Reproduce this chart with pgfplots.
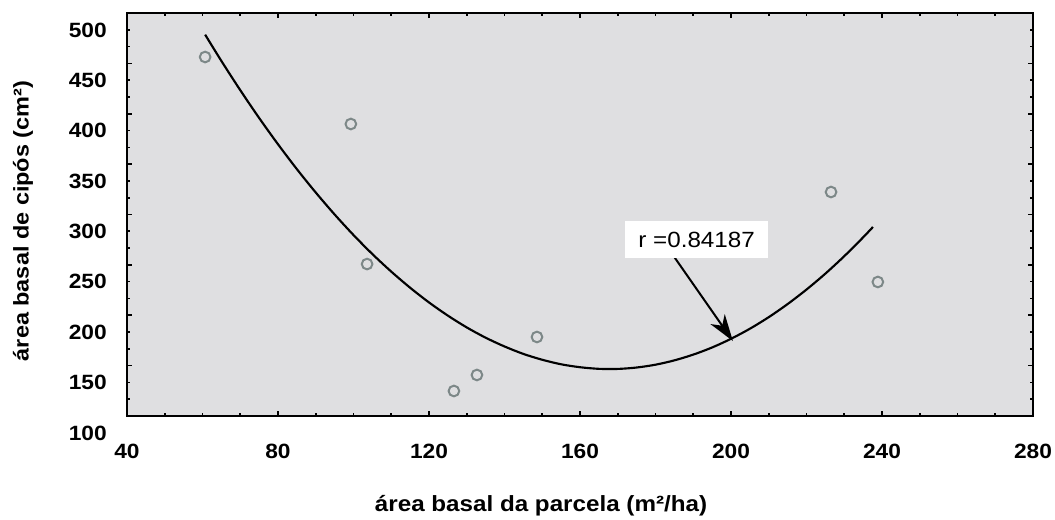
\documentclass[border=0pt]{standalone}
\usepackage{fontspec}
\setmainfont{Liberation Sans}[FakeStretch=1.1]
\usepackage{pgfplots}
\pgfplotsset{compat=1.18}
\usetikzlibrary{arrows.meta}

\definecolor{plotbg}{RGB}{223,223,225}
\definecolor{markgray}{RGB}{125,136,136}

\begin{document}
\begin{tikzpicture}
    % page = 1055 x 519 px at 0.75pt per px
    \useasboundingbox (-95.25pt,-77.25pt) rectangle (696pt,312pt);
    \begin{axis}[
        at={(0,0)}, anchor=south west,
        scale only axis,
        width=679.5pt, height=302.25pt,
        xmin=40, xmax=280,
        ymin=116.87, ymax=516.87,
        xtick={40,80,...,280},
        ytick={116.87,166.87,216.87,266.87,316.87,366.87,416.87,466.87,516.87},
        yticklabels={100,150,200,250,300,350,400,450,500},
        minor x tick num=3,
        minor y tick num=2,
        tick align=inside,
        major tick length=3.5pt,
        minor tick length=2.5pt,
        tick style={black, line width=1.2pt},
        axis line style={black, line width=1.6pt},
        axis background/.style={fill=plotbg},
        /pgf/number format/assume math mode=true,
        tick label style={font=\fontsize{15.5}{18}\selectfont\bfseries},
        xticklabel style={anchor=north, inner sep=0pt, yshift=-21pt},
        yticklabel style={anchor=east, inner sep=0pt, xshift=-15pt, yshift=-12.75pt},
        xlabel={área basal da parcela (m²/ha)},
        ylabel={área basal de cipós (cm²)},
        xlabel style={font=\fontsize{16.5}{19}\selectfont\bfseries,
            at={(axis description cs:0.457,-0.222)}, anchor=center},
        ylabel style={font=\fontsize{16}{19}\selectfont\bfseries,
            at={(axis description cs:-0.1148,0.484)}, anchor=center},
        clip=false,
        ]
        % observations
        \addplot[only marks, mark=o, mark size=4pt,
            mark options={draw=markgray, line width=1.5pt}] coordinates {
            (60.7,473.2)
            (99.3,406.7)
            (103.6,267.7)
            (126.6,141.7)
            (132.7,157.6)
            (148.6,195.3)
            (226.5,339.2)
            (238.9,249.9)
        };
        % fitted quadratic
        \addplot[black, line width=1.6pt, smooth] coordinates {
            (60.7,495.4) (65,469.3) (70,440.3) (75,412.7) (80,386.6)
            (85,361.9) (90,338.7) (95,316.9) (100,296.5) (105,277.6)
            (110,260.2) (115,244.2) (120,229.6) (125,216.5) (130,204.8)
            (135,194.6) (140,185.9) (145,178.5) (150,172.7) (155,168.2)
            (160,165.3) (165,163.7) (170,163.6) (175,165.0) (180,167.8)
            (185,172.1) (190,177.8) (195,184.9) (200,193.5) (205,203.5)
            (210,215.0) (215,228.0) (220,242.4) (225,258.2) (230,275.5)
            (235,294.2) (237.6,304.5)
        };
        % annotation
        \draw[black, line width=1.5pt, -{Stealth[length=20pt, width=13pt, inset=6pt]}]
            (axis cs:184.6,276.7) -- (axis cs:200.5,191.3);
        \node[fill=white, inner sep=0pt, minimum width=107pt, minimum height=27.75pt,
            font=\fontsize{16.5}{19}\selectfont] at (axis cs:190.9,292.1) {r =0.84187};
    \end{axis}
\end{tikzpicture}
\end{document}
